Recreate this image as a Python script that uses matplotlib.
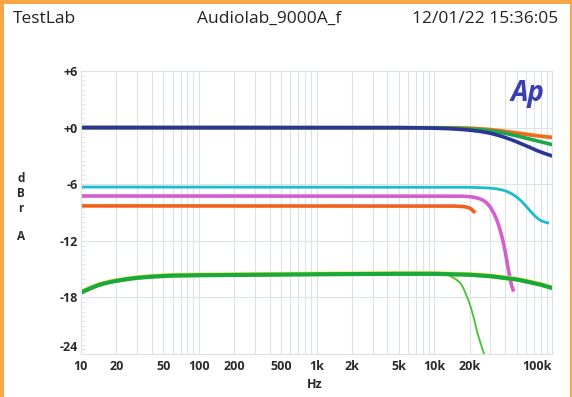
import matplotlib.pyplot as plt
from matplotlib.patches import Rectangle
import numpy as np

# frequency response curves (Hz, dBr)
navy_f = [10, 5000, 8000, 10000, 12500, 15000, 18000, 21000, 25000, 30000, 35000, 40000,
          45000, 50000, 57000, 65000, 75000, 87000, 100000]
navy_db = [0, 0, -0.03, -0.06, -0.1, -0.15, -0.22, -0.3, -0.42, -0.6, -0.82, -1.05,
           -1.28, -1.5, -1.8, -2.1, -2.45, -2.75, -3.0]

green_f = [10, 10000, 15000, 20000, 25000, 30000, 35000, 40000, 47000, 55000, 65000, 80000, 100000]
green_db = [0, -0.02, -0.07, -0.14, -0.23, -0.34, -0.46, -0.6, -0.8, -1.0, -1.22, -1.5, -1.8]

orange_f = [10, 15000, 20000, 25000, 30000, 35000, 40000, 47000, 55000, 65000, 80000, 100000]
orange_db = [0, -0.03, -0.08, -0.15, -0.23, -0.32, -0.41, -0.53, -0.65, -0.78, -0.92, -1.05]

cyan_f = [10, 20000, 25000, 30000, 34000, 38000, 42000, 46000, 50000, 55000, 60000, 65000,
          70000, 75000, 80000, 86000, 92000]
cyan_db = [-6.3, -6.33, -6.37, -6.42, -6.5, -6.62, -6.8, -7.05, -7.35, -7.8, -8.3, -8.8,
           -9.25, -9.6, -9.85, -10.0, -10.1]

magenta_f = [10, 17000, 20000, 22000, 24000, 26000, 28000, 30000, 32000, 34000, 36000, 38000,
             40000, 42000, 44000, 45500, 46700]
magenta_db = [-7.25, -7.27, -7.32, -7.4, -7.52, -7.7, -8.0, -8.45, -9.05, -9.8, -10.7, -11.8,
              -13.1, -14.6, -16.0, -16.8, -17.2]

red_f = [10, 15000, 18000, 19500, 20500, 21200, 21700]
red_db = [-8.3, -8.32, -8.38, -8.48, -8.62, -8.78, -8.9]

low_f = [10, 11, 12.5, 14, 16, 18, 20, 25, 30, 40, 57, 100, 330, 1000, 5000, 10000,
         20000, 30000, 40000, 50000, 60000, 80000, 100000]
low_db = [-17.5, -17.25, -16.95, -16.7, -16.5, -16.35, -16.25, -16.05, -15.93, -15.8, -15.7,
          -15.65, -15.6, -15.55, -15.5, -15.5, -15.6, -15.75, -15.95, -16.1, -16.3, -16.65, -17.0]

drop_f = [9000, 11000, 12500, 13500, 14500, 15500, 16600, 17500, 18500, 19500, 20500,
          21700, 23000, 24500, 26500, 28000]
drop_db = [-15.5, -15.5, -15.55, -15.7, -15.9, -16.15, -16.45, -16.9, -17.6, -18.3, -19.1,
           -20.2, -21.5, -22.7, -24.0, -25.0]

xticks = [10, 20, 50, 100, 200, 500, 1000, 2000, 5000, 10000, 20000, 100000]
xlabels = ["10", "20", "50", "100", "200", "500", "1k", "2k", "5k", "10k", "20k", "100k"]
yticks = [6, 0, -6, -12, -18, -24]
ylabels = ["+6", "+0", "-6", "-12", "-18", "-24"]

plt.rcParams['font.family'] = ['Open Sans', 'DejaVu Sans']

fig = plt.figure(figsize=(5.72, 3.97), dpi=100)
fig.patch.set_facecolor("#f7a646")
fig.patches.append(Rectangle((4 / 572, 0), 566 / 572, 393 / 397, transform=fig.transFigure,
                             facecolor="white", edgecolor="none", zorder=-10))

ax = fig.add_axes([81 / 572, 1 - 354 / 397, 471 / 572, 283 / 397])
ax.set_xscale("log")
ax.set_xlim(10, 100000)
ax.set_ylim(-24, 6)

gc = "#dce2ea"
ax.grid(True, which="both", axis="x", color=gc, lw=0.8)
ax.grid(True, which="major", axis="y", color=gc, lw=0.8)
for s in ax.spines.values():
    s.set_color(gc)
    s.set_linewidth(0.8)

ax.set_xticks(xticks)
ax.set_xticklabels(xlabels)
ax.xaxis.set_minor_formatter(plt.NullFormatter())
ax.set_yticks(yticks)
ax.set_yticklabels(ylabels)
ax.set_yticks(np.arange(-24, 6.01, 0.5), minor=True)
ax.tick_params(axis="x", which="both", length=0, pad=4, labelsize=9, labelcolor="#2a2a2a")
ax.tick_params(axis="y", which="major", length=0, pad=2, labelsize=9, labelcolor="#2a2a2a")
ax.tick_params(axis="y", which="minor", direction="in", length=3, color=gc)
for lab in ax.get_xticklabels() + ax.get_yticklabels():
    lab.set_fontweight("bold")
ax.get_xticklabels()[-1].set_horizontalalignment("right")
ax.get_yticklabels()[-1].set_verticalalignment("bottom")

# curves
ax.plot(orange_f, [v + 0.08 for v in orange_db], color="#f8c070", lw=2.0)
ax.plot(orange_f, orange_db, color="#f06a1e", lw=2.6)
ax.plot(green_f, green_db, color="#1aa84a", lw=2.6)
ax.plot(navy_f, navy_db, color="#2a3595", lw=2.6)
ax.plot(cyan_f, cyan_db, color="#1bbccc", lw=2.0)
ax.plot(magenta_f, magenta_db, color="#d35fcf", lw=2.6)
ax.plot(red_f, red_db, color="#f2601e", lw=2.6)
ax.plot(drop_f, drop_db, color="#eeee80", lw=1.8)
ax.plot(drop_f, drop_db, color="#2fbf5a", lw=1.1)
ax.plot(low_f, [v + 0.04 for v in low_db], color="#e6e64a", lw=3.3)
ax.plot(low_f, low_db, color="#19a83a", lw=3.0)

ax.text(0.985, 0.92, "Ap", transform=ax.transAxes, ha="right", va="center",
        fontsize=20, fontweight="bold", style="italic", color="#3a3fae")

fig.text(13 / 572, 1 - 19 / 397, "TestLab", fontsize=12.5, fontweight="medium", color="#222222", va="center")
fig.text(197 / 572, 1 - 19 / 397, "Audiolab_9000A_f", fontsize=12.5, fontweight="medium", color="#222222", va="center")
fig.text(558 / 572, 1 - 19 / 397, "12/01/22 15:36:05", fontsize=12.5, fontweight="medium", color="#222222",
         va="center", ha="right")
fig.text(315 / 572, 1 - 385 / 397, "Hz", fontsize=9, fontweight="bold", color="#2a2a2a",
         ha="center", va="center")
fig.text(21 / 572, 1 - 208 / 397, "d\nB\nr\n\nA", fontsize=8.5, fontweight="bold",
         color="#2a2a2a", ha="center", va="center", linespacing=1.15)

fig.savefig("out.png", dpi=100)
